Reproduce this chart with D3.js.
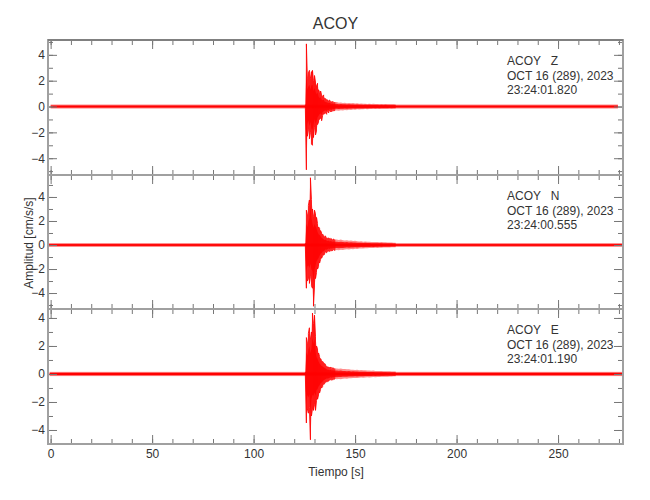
<!DOCTYPE html>
<html>
<head>
<meta charset="utf-8">
<script src="https://cdn.jsdelivr.net/npm/d3@7"></script>
<style>
  html, body { margin: 0; padding: 0; background: #fff; }
  svg { display: block; }
  text { font-family: "Liberation Sans", Arial, sans-serif; fill: #333; }
</style>
</head>
<body>
<svg id="chart" width="650" height="500"></svg>
<script>
// ---------------- DATA ----------------
const title = "ACOY";
const components = ["Z", "N", "E"];
const dateLabel = "OCT 16 (289), 2023";
const startTimes = ["23:24:01.820", "23:24:00.555", "23:24:01.190"];
const xLabel = "Tiempo [s]";
const yLabel = "Amplitud [cm/s/s]";
const xTicks = [0, 50, 100, 150, 200, 250];
const yTicks = [-4, -2, 0, 2, 4];
const xDomain = [-1.3, 282];
const yDomains = [[-5.3, 5.15], [-5.33, 5.83], [-5.0, 4.64]];

// background noise band per trace
const noiseStart = [0, -1, -0.5];
const noiseEnd = [279.5, 282, 282];
const noiseAmp = [0.15, 0.15, 0.15];

// event envelope bins (time in s)
const binTimes = [125.5,126,126.5,127,127.5,128,128.5,129,129.5,130,130.5,131,131.5,132,132.5,133,133.5,134,134.5,135,135.5,136,136.5,137,137.5,138,138.5,139,139.5,140,
  141,142,143,144,145,146,147,148,149,150,151,152,153,154,155,156,157,158,159,160,161,162,163,164,165,166,167,168,169,170];

const zMax = [0.15,4.85,2.2,2.6,2.8,2.2,2.7,2.8,2.0,2.4,1.9,1.6,1.8,1.3,1.1,1.2,0.9,0.8,0.9,0.65,0.6,0.55,0.5,0.45,0.5,0.4,0.35,0.4,0.3,0.35,
  0.35,0.3,0.32,0.28,0.3,0.26,0.28,0.25,0.27,0.24,0.25,0.22,0.24,0.21,0.22,0.2,0.22,0.2,0.21,0.19,0.2,0.18,0.2,0.18,0.19,0.17,0.18,0.17,0.18,0.16];
const zMin = [-0.15,-4.9,-2.3,-1.8,-2.5,-2.0,-2.9,-3.0,-2.4,-1.6,-2.2,-1.9,-1.4,-1.2,-1.0,-0.9,-1.1,-0.7,-0.6,-0.55,-0.5,-0.6,-0.4,-0.5,-0.35,-0.4,-0.4,-0.3,-0.35,-0.3,
  -0.3,-0.32,-0.28,-0.3,-0.26,-0.28,-0.25,-0.26,-0.23,-0.25,-0.22,-0.23,-0.21,-0.22,-0.2,-0.21,-0.19,-0.2,-0.18,-0.2,-0.18,-0.19,-0.17,-0.18,-0.17,-0.18,-0.16,-0.17,-0.16,-0.16];

const nMax = [0.15,2.9,2.5,3.3,3.75,5.6,3.8,3.0,2.4,2.9,2.6,2.3,1.8,1.5,1.4,1.2,1.0,0.9,0.8,0.7,0.75,0.6,0.55,0.6,0.5,0.55,0.5,0.45,0.5,0.45,
  0.45,0.42,0.45,0.4,0.38,0.4,0.36,0.38,0.34,0.35,0.32,0.3,0.32,0.28,0.3,0.27,0.28,0.25,0.26,0.24,0.25,0.23,0.24,0.22,0.22,0.21,0.2,0.2,0.19,0.18];
const nMin = [-0.15,-3.6,-3.0,-2.8,-3.2,-2.6,-3.4,-3.6,-5.1,-3.5,-2.8,-2.3,-2.0,-1.8,-1.5,-1.2,-1.1,-0.9,-0.85,-0.75,-0.6,-0.65,-0.55,-0.5,-0.55,-0.45,-0.5,-0.45,-0.4,-0.45,
  -0.42,-0.44,-0.4,-0.42,-0.38,-0.36,-0.38,-0.34,-0.35,-0.32,-0.33,-0.3,-0.29,-0.3,-0.27,-0.28,-0.26,-0.25,-0.26,-0.23,-0.24,-0.22,-0.23,-0.21,-0.21,-0.2,-0.2,-0.19,-0.19,-0.18];

const eMax = [0.15,2.6,2.2,2.9,3.3,2.5,3.0,4.35,3.6,4.2,2.7,2.0,1.8,1.5,1.25,1.1,0.95,0.9,0.8,0.75,0.65,0.55,0.5,0.5,0.45,0.5,0.4,0.45,0.4,0.4,
  0.4,0.38,0.4,0.36,0.35,0.33,0.34,0.3,0.31,0.29,0.3,0.27,0.28,0.26,0.26,0.25,0.24,0.23,0.24,0.22,0.22,0.21,0.21,0.2,0.2,0.19,0.19,0.18,0.18,0.17];
const eMin = [-0.15,-3.5,-2.5,-2.8,-2.4,-4.7,-3.0,-2.5,-2.6,-2.2,-2.6,-1.9,-1.8,-1.5,-1.35,-1.1,-1.0,-0.9,-0.75,-0.7,-0.6,-0.55,-0.55,-0.5,-0.45,-0.4,-0.45,-0.4,-0.4,-0.35,
  -0.38,-0.36,-0.37,-0.34,-0.33,-0.34,-0.3,-0.31,-0.29,-0.28,-0.29,-0.27,-0.26,-0.27,-0.25,-0.24,-0.25,-0.23,-0.22,-0.23,-0.21,-0.21,-0.2,-0.2,-0.19,-0.19,-0.18,-0.18,-0.17,-0.17];

const traceMax = [zMax, nMax, eMax];
const traceMin = [zMin, nMin, eMin];

// ---------------- LAYOUT ----------------
const svg = d3.select("#chart");
const left = 48, right = 623;
const panelTops = [40, 175, 309];
const panelBottoms = [175, 309, 444];
const red = "#ff0000";
const axisCol = "#a0a0a0";
const fineBins = 30; // bins with 0.5 s spacing drawn as zigzag

const x = d3.scaleLinear().domain(xDomain).range([left, right]);
const defs = svg.append("defs");

components.forEach((comp, p) => {
  const top = panelTops[p], bot = panelBottoms[p];
  const y = d3.scaleLinear().domain(yDomains[p]).range([bot, top]);
  const g = svg.append("g");

  defs.append("clipPath").attr("id", "clip" + p)
    .append("rect").attr("x", left).attr("y", top).attr("width", right - left).attr("height", bot - top);
  const plot = g.append("g").attr("clip-path", `url(#clip${p})`);

  // noise band
  plot.append("rect")
    .attr("x", x(noiseStart[p])).attr("width", x(noiseEnd[p]) - x(noiseStart[p]))
    .attr("y", y(noiseAmp[p])).attr("height", y(-noiseAmp[p]) - y(noiseAmp[p]))
    .attr("fill", red).attr("opacity", 0.55);
  plot.append("rect")
    .attr("x", x(noiseStart[p])).attr("width", x(noiseEnd[p]) - x(noiseStart[p]))
    .attr("y", y(noiseAmp[p] / 2)).attr("height", y(-noiseAmp[p] / 2) - y(noiseAmp[p] / 2))
    .attr("fill", red);

  // envelope area (soft)
  const area = d3.area().x((d, i) => x(binTimes[i])).y0((d, i) => y(traceMin[p][i])).y1(d => y(d));
  plot.append("path").attr("d", area(traceMax[p]))
    .attr("fill", red).attr("opacity", 0.45);

  // event zigzag (fine bins)
  const pts = [];
  binTimes.forEach((t, i) => {
    if (i >= fineBins) return;
    if (i % 2 === 0) { pts.push([t, traceMax[p][i]]); pts.push([t, traceMin[p][i]]); }
    else { pts.push([t, traceMin[p][i]]); pts.push([t, traceMax[p][i]]); }
  });
  const line = d3.line().x(d => x(d[0])).y(d => y(d[1]));
  plot.append("path").attr("d", line(pts))
    .attr("fill", "none").attr("stroke", red).attr("stroke-width", 1).attr("opacity", 0.85);

  // inner core of the coda (solid)
  const core = d3.area().x((d, i) => x(binTimes[i])).y0((d, i) => y(traceMin[p][i] * 0.6)).y1(d => y(d * 0.6));
  plot.append("path").attr("d", core(traceMax[p]))
    .attr("fill", red).attr("opacity", 0.8);

  // axes: y left / right
  const yMinor = d3.range(Math.ceil(yDomains[p][0]), Math.floor(yDomains[p][1]) + 1);
  g.append("g").attr("transform", `translate(${left},0)`)
    .call(d3.axisLeft(y).tickValues(yTicks).tickSizeInner(-9).tickSizeOuter(0).tickPadding(3).tickFormat(d3.format("d")));
  g.append("g").attr("transform", `translate(${left},0)`)
    .call(d3.axisLeft(y).tickValues(yMinor).tickSizeInner(-5).tickSizeOuter(0).tickFormat(""));
  g.append("g").attr("transform", `translate(${right},0)`)
    .call(d3.axisRight(y).tickValues(yTicks).tickSizeInner(-9).tickSizeOuter(0).tickFormat(""));
  g.append("g").attr("transform", `translate(${right},0)`)
    .call(d3.axisRight(y).tickValues(yMinor).tickSizeInner(-5).tickSizeOuter(0).tickFormat(""));

  // x axes: top / bottom
  const xMinor = d3.range(0, 290, 10).filter(v => v <= xDomain[1]);
  g.append("g").attr("transform", `translate(0,${top})`)
    .call(d3.axisTop(x).tickValues(xTicks).tickSizeInner(-9).tickSizeOuter(0).tickFormat(""));
  g.append("g").attr("transform", `translate(0,${top})`)
    .call(d3.axisTop(x).tickValues(xMinor).tickSizeInner(-5).tickSizeOuter(0).tickFormat(""));
  g.append("g").attr("transform", `translate(0,${bot})`)
    .call(d3.axisBottom(x).tickValues(xTicks).tickSizeInner(-9).tickSizeOuter(0).tickPadding(5)
      .tickFormat(p === 2 ? d3.format("d") : ""));
  g.append("g").attr("transform", `translate(0,${bot})`)
    .call(d3.axisBottom(x).tickValues(xMinor).tickSizeInner(-5).tickSizeOuter(0).tickFormat(""));

  g.selectAll(".domain").remove();
  g.selectAll(".tick line").attr("stroke", "#777").attr("stroke-width", 1);
  g.selectAll(".tick text").attr("font-size", 12).attr("fill", "#444")
    .style("font-family", '"Liberation Sans", Arial, sans-serif');

  // frame
  g.append("rect").attr("x", left).attr("y", top).attr("width", right - left).attr("height", bot - top)
    .attr("fill", "none").attr("stroke", axisCol).attr("stroke-width", 2);

  // annotation
  const ann = g.append("text").attr("x", 507).attr("y", top + 25)
    .attr("font-size", 12).attr("fill", "#333").style("white-space", "pre");
  ann.append("tspan").attr("x", 507).attr("dy", 0).text("ACOY   " + comp);
  ann.append("tspan").attr("x", 507).attr("dy", 14.5).text(dateLabel);
  ann.append("tspan").attr("x", 507).attr("dy", 14.5).text(startTimes[p]);
});

// darker top border
svg.append("line").attr("x1", left).attr("x2", right).attr("y1", panelTops[0]).attr("y2", panelTops[0])
  .attr("stroke", "#808080").attr("stroke-width", 2);

// title
svg.append("text").attr("x", (left + right) / 2).attr("y", 29).attr("text-anchor", "middle")
  .attr("font-size", 16).attr("fill", "#444").text(title);

// axis labels
svg.append("text").attr("x", 336).attr("y", 476).attr("text-anchor", "middle")
  .attr("font-size", 12).attr("fill", "#333").style("white-space", "pre").text(xLabel);
svg.append("text").attr("transform", "translate(33,243) rotate(-90)").attr("text-anchor", "middle")
  .attr("font-size", 12).attr("fill", "#333").style("white-space", "pre").text(yLabel);
</script>
</body>
</html>
